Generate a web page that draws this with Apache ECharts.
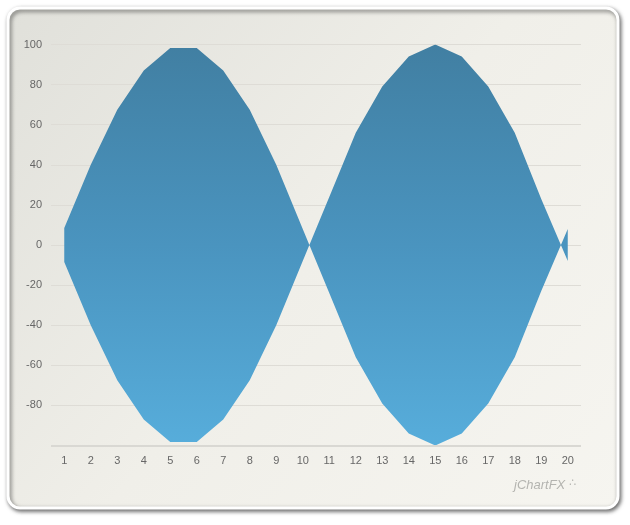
<!DOCTYPE html>
<html>
<head>
<meta charset="utf-8">
<script src="https://cdn.jsdelivr.net/npm/echarts@6/dist/echarts.min.js"></script>
<style>
html,body{margin:0;padding:0;background:#ffffff;}
#chart{width:630px;height:525px;}
</style>
</head>
<body>
<div id="chart"></div>
<script>
// Data
const categories = ['1','2','3','4','5','6','7','8','9','10','11','12','13','14','15','16','17','18','19','20'];
const upperValues = [8.5, 40, 67.5, 87, 98.3, 98.3, 87, 67.5, 40, 8, -24, -56, -79, -94, -100, -94, -79, -56, -23, 8];
const lowerValues = [-8.5, -40, -67.5, -87, -98.3, -98.3, -87, -67.5, -40, -8, 24, 56, 79, 94, 100, 94, 79, 56, 23, -8];
const yTicks = [-100, -80, -60, -40, -20, 0, 20, 40, 60, 80, 100];

const bandValues = upperValues.map((v, i) => v - lowerValues[i]);

const chart = echarts.init(document.getElementById('chart'), null, {renderer: 'canvas'});
const labelFont = {color: '#676767', fontSize: 11, fontFamily: 'Liberation Sans, Arial, sans-serif'};

chart.setOption({
  animation: false,
  backgroundColor: '#ffffff',
  graphic: [
    {
      type: 'rect', z: -10, silent: true,
      shape: {x: 8, y: 8, width: 610, height: 500, r: 12},
      style: {
        fill: new echarts.graphic.LinearGradient(0, 0, 1, 1, [
          {offset: 0, color: '#e0e0da'},
          {offset: 0.5, color: '#f0efe9'},
          {offset: 1, color: '#f6f5f0'}
        ]),
        stroke: '#ffffff', lineWidth: 3,
        shadowBlur: 4, shadowColor: 'rgba(0,0,0,0.55)', shadowOffsetX: 1.5, shadowOffsetY: 2
      }
    },
    {
      type: 'text', z: 10, silent: true,
      left: 514, top: 479,
      style: {text: 'jChartFX', fill: '#b4b4b0', font: 'italic 13px "Liberation Sans", Arial, sans-serif'}
    },
    {
      type: 'text', z: 10, silent: true,
      left: 569, top: 478,
      style: {text: '\u2234', fill: '#b4b4b0', font: '11px "DejaVu Sans", sans-serif'}
    }
  ],
  grid: {left: 51, top: 44.5, width: 530, height: 401, containLabel: false},
  xAxis: {
    type: 'category',
    data: categories,
    boundaryGap: true,
    axisLine: {show: false},
    axisTick: {show: false},
    axisLabel: Object.assign({margin: 10, interval: 0}, labelFont),
    splitLine: {show: false}
  },
  yAxis: {
    type: 'value',
    min: yTicks[0], max: yTicks[yTicks.length - 1], interval: 20,
    axisLine: {show: false},
    axisTick: {show: false},
    axisLabel: Object.assign({
      margin: 9,
      formatter: function (v) { return v === -100 ? '' : String(v); }
    }, labelFont),
    splitLine: {show: true, lineStyle: {color: '#dedcd6', width: 1}}
  },
  series: [
    {
      type: 'line', name: 'low', data: lowerValues, stack: 'band', stackStrategy: 'all',
      symbol: 'none', lineStyle: {width: 0, opacity: 0}, silent: true
    },
    {
      type: 'line', name: 'band', data: bandValues, stack: 'band', stackStrategy: 'all',
      symbol: 'none', lineStyle: {width: 0, opacity: 0}, silent: true,
      areaStyle: {
        opacity: 1,
        color: new echarts.graphic.LinearGradient(0, 0, 0, 1, [
          {offset: 0, color: '#417fa2'},
          {offset: 0.5, color: '#4a94bf'},
          {offset: 1, color: '#57addb'}
        ])
      }
    },
    {
      type: 'line', name: 'baseline', data: [],
      markLine: {
        silent: true, symbol: 'none', label: {show: false},
        lineStyle: {color: '#d9d8d3', width: 2, type: 'solid'},
        data: [{yAxis: yTicks[0]}]
      }
    }
  ]
});
</script>
</body>
</html>
